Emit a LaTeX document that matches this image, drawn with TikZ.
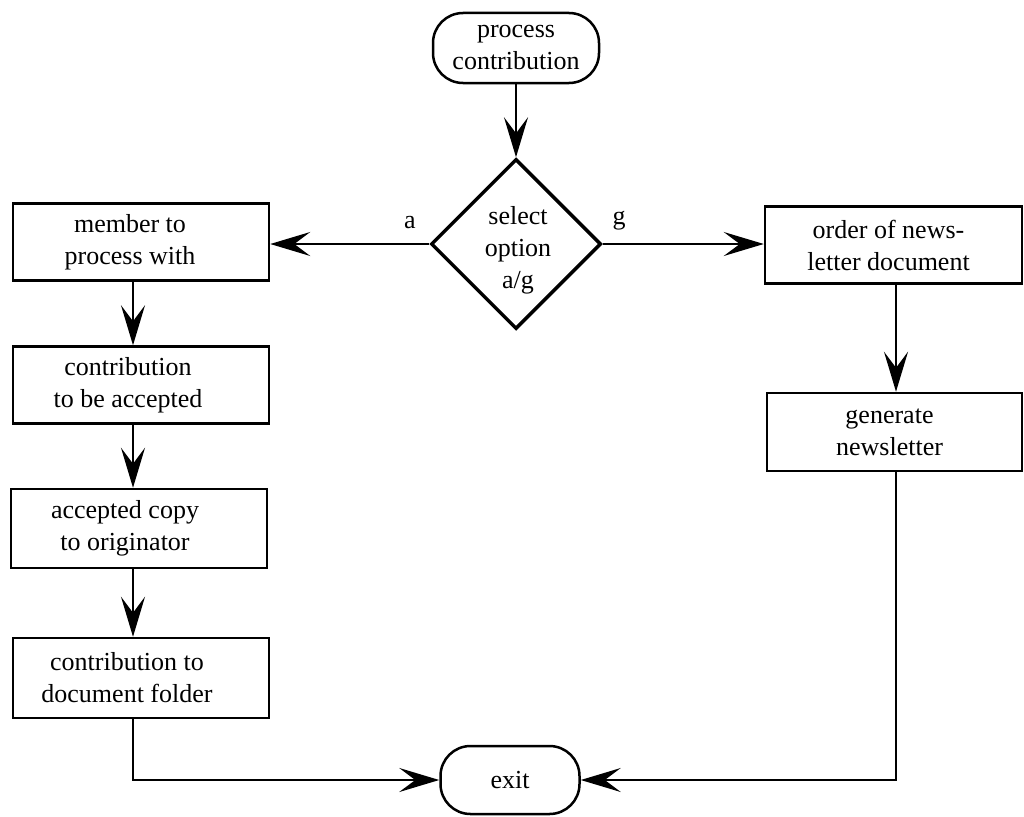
\documentclass[tikz,border=0pt]{standalone}
\usepackage{fontspec}
\setmainfont{Liberation Serif}
\usetikzlibrary{shapes.geometric,arrows.meta}
\begin{document}
\begin{tikzpicture}[x=1pt,y=-1pt,
  every node/.style={font=\fontsize{26}{32}\selectfont},
  procbox/.style={draw,line width=2.5pt,minimum width=256pt,minimum height=77pt,inner sep=0pt},
  terminal/.style={draw,line width=2.5pt,rounded corners=30pt,inner sep=0pt,align=center},
  decision/.style={draw,diamond,line width=3.5pt,minimum width=170pt,minimum height=170pt,inner sep=0pt},
  txt/.style={align=center,inner sep=0pt},
  flow/.style={line width=2pt,-{Stealth[length=40pt,width=24pt,inset=16pt]}}
]
\useasboundingbox (0,0) rectangle (1024,816);

% lanes of the vertical connectors
\coordinate (lane) at (133,0);
\coordinate (rlane) at (896,0);

% start and decision
\node[terminal,minimum width=166pt,minimum height=70pt] (start) at (516,48) {process\\contribution};
\node[decision,label={[txt,yshift=-6pt,xshift=2pt]center:{select\\option\\a/g}}] (sel) at (516,244) {};
\node (la) at (410,223) {a};
\node (lg) at (619,221) {g};

% branch a
\node[procbox,label={[txt,xshift=-11pt]center:{member to\\process with}}] (m1) at (141,242) {};
\node[procbox,label={[txt,xshift=-13pt]center:{contribution\\to be accepted}}] (m2) at (141,385) {};
\node[procbox,minimum height=79pt,label={[txt,xshift=-14pt]center:{accepted copy\\to originator}}] (m3) at (139,528.5) {};
\node[procbox,minimum height=80pt,label={[txt,xshift=-14pt]center:{contribution to\\document folder}}] (m4) at (141,678) {};

% branch g
\node[procbox,minimum width=257pt,label={[txt,xshift=-5pt]center:{order of news-\\letter document}}] (g1) at (893.5,245) {};
\node[procbox,minimum width=255pt,minimum height=78pt,label={[txt,xshift=-5pt]center:{generate\\newsletter}}] (g2) at (894.5,432) {};

% end
\node[terminal,minimum width=139pt,minimum height=68pt] (exit) at (510,780) {exit};

% connectors
\draw[flow] (start.south) -- (sel.north);
\draw[flow] (sel.west) -- (sel.west -| m1.east);
\draw[flow] (sel.east) -- (sel.east -| g1.west);
\draw[flow] (m1.south -| lane) -- (m2.north -| lane);
\draw[flow] (m2.south -| lane) -- (m3.north -| lane);
\draw[flow] (m3.south -| lane) -- (m4.north -| lane);
\draw[flow] (m4.south -| lane) |- (exit.west);
\draw[flow] (g1.south -| rlane) -- (g2.north -| rlane);
\draw[flow] (g2.south -| rlane) |- (exit.east);
\end{tikzpicture}
\end{document}
